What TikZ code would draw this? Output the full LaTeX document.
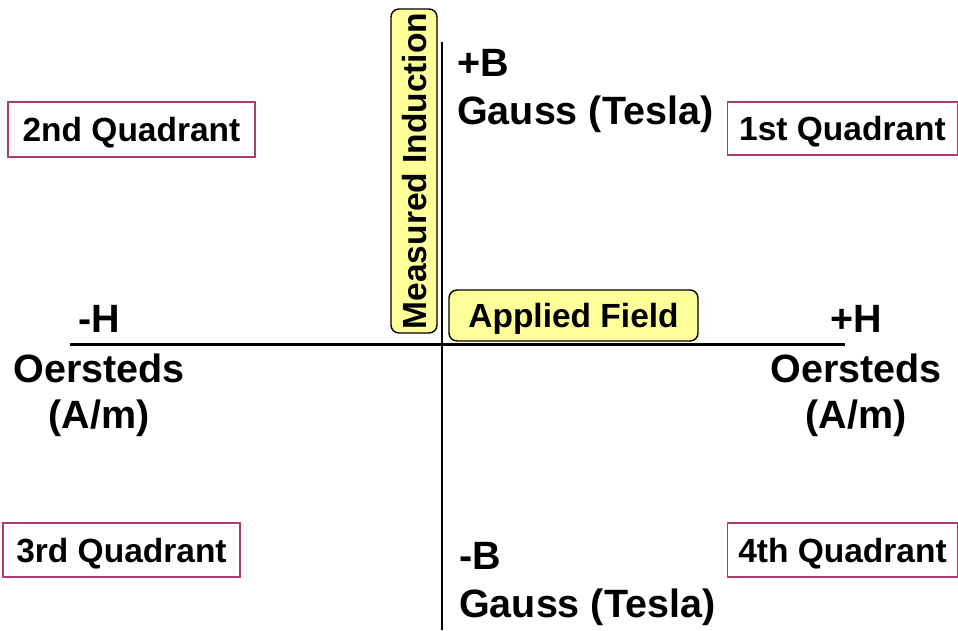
\documentclass[tikz,border=0pt]{standalone}
\usepackage{fontspec}
\setmainfont{Liberation Sans}
\definecolor{quadc}{RGB}{172,62,112}
\definecolor{hilite}{RGB}{255,255,153}
\begin{document}
\begin{tikzpicture}[x=1pt,y=-1pt,
  big/.style={font=\bfseries\fontsize{39.5}{46}\selectfont, inner sep=0pt},
  quad/.style={draw=quadc, line width=1.8pt, font=\bfseries\fontsize{33.5}{40}\selectfont,
    inner sep=0pt, text height=24pt, text depth=0pt},
  tag/.style={draw=black, line width=1.4pt, fill=hilite, rounded corners=8pt,
    font=\bfseries\fontsize{33.5}{40}\selectfont, inner sep=0pt, text height=24pt, text depth=0pt},
  axis/.style={line width=2.6pt}]
\useasboundingbox (0,0) rectangle (958,630);
% axes
\coordinate (hl) at (70,344.5);
\coordinate (hr) at (845,344.5);
\coordinate (vt) at (442,42);
\coordinate (vb) at (442,630);
\draw[axis] (hl) -- (hr);
\draw[axis] (vt) -- (vb);
% quadrant boxes
\node[quad, minimum width=247pt, minimum height=55pt] (q2) at (131.5,129.5) {2nd Quadrant};
\node[quad, minimum width=230pt, minimum height=53pt] (q1) at (842.5,128.5) {1st Quadrant};
\node[quad, minimum width=237pt, minimum height=54pt] (q3) at (121.5,550) {3rd Quadrant};
\node[quad, minimum width=230pt, minimum height=54pt] (q4) at (842.5,550) {4th Quadrant};
% highlighted labels
\node[tag, rotate=90, minimum width=324pt, minimum height=46pt] (mi) at (414,171) {Measured Induction};
\node[tag, minimum width=249pt, minimum height=51pt] (af) at (573.5,315.5) {Applied Field};
% B axis labels
\node[big, anchor=base west] (pb) at (457,76) {+B};
\node[big, anchor=base west] (pbu) at (457,124) {Gauss (Tesla)};
\node[big, anchor=base west] (mb) at (459,569) {-B};
\node[big, anchor=base west] (mbu) at (459,617) {Gauss (Tesla)};
% H axis labels
\node[big, anchor=base] (mh) at (99,332) {-H};
\node[big, anchor=base] (mhu) at (99,382) {Oersteds};
\node[big, anchor=base] (mhu2) at (99,428) {(A/m)};
\node[big, anchor=base] (ph) at (856,332) {+H};
\node[big, anchor=base] (phu) at (856,382) {Oersteds};
\node[big, anchor=base] (phu2) at (856,428) {(A/m)};
\end{tikzpicture}
\end{document}
